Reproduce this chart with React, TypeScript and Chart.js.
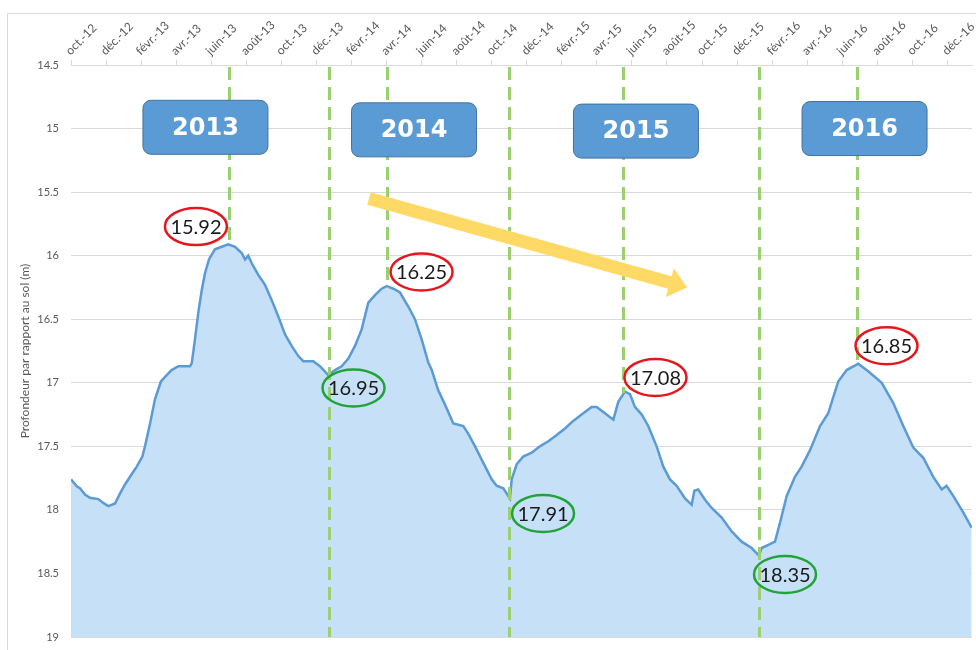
import React, { useEffect, useRef } from 'react';
import { Chart, registerables } from 'chart.js';

Chart.register(...registerables);

// Tick labels every two months, starting at oct.-12 (month offset 0)
const monthLabels = [
  'oct.-12', 'déc.-12', 'févr.-13', 'avr.-13', 'juin-13', 'août-13', 'oct.-13', 'déc.-13',
  'févr.-14', 'avr.-14', 'juin-14', 'août-14', 'oct.-14', 'déc.-14', 'févr.-15', 'avr.-15',
  'juin-15', 'août-15', 'oct.-15', 'déc.-15', 'févr.-16', 'avr.-16', 'juin-16', 'août-16',
  'oct.-16', 'déc.-16',
];

// Months elapsed since 1 Oct 2012
const monthOffsets = [
  0.00, 0.33, 0.51, 0.80, 1.08, 1.56, 1.84, 2.13, 2.51, 2.80, 3.08, 3.46, 3.75, 4.07, 4.22,
  4.51, 4.79, 5.13, 5.46, 5.74, 6.12, 6.79, 6.89, 7.07, 7.26, 7.46, 7.64, 7.87, 8.21, 8.60,
  8.97, 9.36, 9.74, 9.93, 10.11, 10.31, 10.68, 11.07, 11.45, 11.83, 12.21, 12.59, 12.97,
  13.25, 13.82, 14.20, 14.68, 15.06, 15.44, 15.82, 16.20, 16.58, 16.96, 17.34, 17.72, 18.01,
  18.39, 18.77, 19.24, 19.62, 20.01, 20.38, 20.58, 20.95, 21.33, 21.81, 22.38, 22.66, 23.05,
  23.52, 24.00, 24.28, 24.66, 25.04, 25.14, 25.43, 25.80, 26.28, 26.75, 27.23, 27.71, 28.18,
  28.65, 29.13, 29.70, 29.99, 30.46, 30.94, 31.22, 31.60, 31.89, 32.17, 32.56, 32.93, 33.41,
  33.79, 34.17, 34.55, 35.03, 35.41, 35.56, 35.78, 36.17, 36.55, 37.12, 37.69, 38.26, 38.83,
  39.25, 39.40, 39.87, 40.16, 40.45, 40.83, 41.30, 41.68, 42.16, 42.73, 43.20, 43.49, 43.77,
  44.25, 44.91, 45.48, 46.25, 46.91, 47.48, 48.05, 48.62, 49.19, 49.67, 49.95, 50.33, 50.90,
  51.38,
];

// Depth below ground (m)
const depths = [
  17.76, 17.815, 17.83, 17.88, 17.905, 17.915, 17.945, 17.97, 17.95, 17.87, 17.80, 17.72,
  17.66, 17.58, 17.50, 17.32, 17.13, 16.99, 16.94, 16.90, 16.87, 16.87, 16.845, 16.66, 16.45,
  16.27, 16.14, 16.03, 15.95, 15.93, 15.91, 15.93, 15.98, 16.03, 16.00, 16.06, 16.15, 16.23,
  16.35, 16.48, 16.62, 16.71, 16.79, 16.83, 16.83, 16.87, 16.94, 16.90, 16.87, 16.81, 16.71,
  16.58, 16.37, 16.31, 16.26, 16.24, 16.26, 16.29, 16.40, 16.50, 16.66, 16.84, 16.90, 17.06,
  17.17, 17.32, 17.34, 17.40, 17.50, 17.63, 17.76, 17.81, 17.83, 17.91, 17.76, 17.64, 17.58,
  17.55, 17.50, 17.46, 17.41, 17.36, 17.30, 17.25, 17.19, 17.19, 17.24, 17.29, 17.15, 17.07,
  17.09, 17.19, 17.25, 17.34, 17.50, 17.66, 17.76, 17.81, 17.91, 17.96, 17.85, 17.84, 17.92,
  17.985, 18.06, 18.17, 18.25, 18.30, 18.36, 18.30, 18.27, 18.25, 18.10, 17.89, 17.74, 17.66,
  17.53, 17.34, 17.24, 17.11, 16.99, 16.90, 16.85, 16.91, 17.00, 17.16, 17.34, 17.51, 17.59,
  17.74, 17.84, 17.81, 17.89, 18.02, 18.14,
];

// Annotated highs (red) and lows (green)
const peakMonths = [9.01, 18.03, 31.49, 44.84];
const peakValues = [15.92, 16.25, 17.08, 16.85];
const troughMonths = [14.72, 24.96, 39.25];
const troughValues = [16.95, 17.91, 18.35];

// Year boxes
const yearLabels = ['2013', '2014', '2015', '2016'];
const yearMonths = [7.67, 19.57, 32.23, 45.27];
const yearDepths = [14.99, 15.01, 15.02, 15.0];

// Trend arrow (start / tip), in data units
const arrowMonths = [17.0, 35.15];
const arrowDepths = [15.55, 16.25];

// styling offsets for the value ellipses (px)
const peakLabelOffsets = [[-33, -19], [34.5, -15.5], [32.5, -15.5], [29.5, -18]];
const troughLabelOffsets = [[24.5, 11.5], [34.5, 15], [26, 20]];

const annotationPlugin = {
  id: 'customAnnotations',
  beforeDraw(chart: any) {
    const { ctx } = chart;
    ctx.save();
    ctx.fillStyle = '#ffffff';
    ctx.fillRect(0, 0, chart.width, chart.height);
    ctx.strokeStyle = '#D9D9D9';
    ctx.lineWidth = 1;
    ctx.strokeRect(7.5, 13.5, 990, 700);
    ctx.restore();
  },
  afterDatasetsDraw(chart: any) {
    const { ctx, chartArea } = chart;
    const xs = chart.scales.x;
    const ys = chart.scales.y;
    ctx.save();

    // dashed vertical lines
    ctx.strokeStyle = '#9BD071';
    ctx.lineWidth = 3;
    ctx.setLineDash([13, 7]);
    troughMonths.forEach((m) => {
      const px = Math.round(xs.getPixelForValue(m)) + 0.5;
      ctx.beginPath();
      ctx.moveTo(px, chartArea.top + 2);
      ctx.lineTo(px, chartArea.bottom);
      ctx.stroke();
    });
    peakMonths.forEach((m, i) => {
      const px = Math.round(xs.getPixelForValue(m)) + 0.5;
      ctx.beginPath();
      ctx.moveTo(px, chartArea.top + 2);
      ctx.lineTo(px, ys.getPixelForValue(peakValues[i]));
      ctx.stroke();
    });
    ctx.setLineDash([]);

    // trend arrow
    const x0 = xs.getPixelForValue(arrowMonths[0]);
    const y0 = ys.getPixelForValue(arrowDepths[0]);
    const x1 = xs.getPixelForValue(arrowMonths[1]);
    const y1 = ys.getPixelForValue(arrowDepths[1]);
    const ang = Math.atan2(y1 - y0, x1 - x0);
    const len = Math.hypot(x1 - x0, y1 - y0);
    const headLen = 18;
    const headHalf = 15;
    const shaftHalf = 6.5;
    ctx.save();
    ctx.translate(x0, y0);
    ctx.rotate(ang);
    ctx.fillStyle = '#FFD966';
    ctx.beginPath();
    ctx.moveTo(0, -shaftHalf);
    ctx.lineTo(len - headLen, -shaftHalf);
    ctx.lineTo(len - headLen, -headHalf);
    ctx.lineTo(len, 0);
    ctx.lineTo(len - headLen, headHalf);
    ctx.lineTo(len - headLen, shaftHalf);
    ctx.lineTo(0, shaftHalf);
    ctx.closePath();
    ctx.fill();
    ctx.restore();

    // year boxes
    yearLabels.forEach((lab, i) => {
      const cx = xs.getPixelForValue(yearMonths[i]);
      const cy = ys.getPixelForValue(yearDepths[i]);
      const w = 125;
      const h = 54;
      ctx.beginPath();
      (ctx as any).roundRect(cx - w / 2, cy - h / 2, w, h, 8);
      ctx.fillStyle = '#5B9BD5';
      ctx.fill();
      ctx.strokeStyle = '#41719C';
      ctx.lineWidth = 1;
      ctx.stroke();
      ctx.fillStyle = '#ffffff';
      ctx.font = 'bold 24px "DejaVu Sans", sans-serif';
      ctx.textAlign = 'center';
      ctx.textBaseline = 'middle';
      ctx.fillText(lab, cx, cy + 1);
    });

    // value ellipses
    const drawEllipse = (cx: number, cy: number, color: string, text: string) => {
      ctx.beginPath();
      ctx.ellipse(cx, cy, 31, 18.5, 0, 0, Math.PI * 2);
      ctx.strokeStyle = color;
      ctx.lineWidth = 2.5;
      ctx.stroke();
      ctx.fillStyle = '#1a1a1a';
      ctx.font = '20px Lato, sans-serif';
      ctx.textAlign = 'center';
      ctx.textBaseline = 'middle';
      ctx.fillText(text, cx, cy + 1);
    };
    peakMonths.forEach((m, i) => {
      const px = xs.getPixelForValue(m) + peakLabelOffsets[i][0];
      const py = ys.getPixelForValue(peakValues[i]) + peakLabelOffsets[i][1];
      drawEllipse(px, py, '#E5161E', peakValues[i].toFixed(2));
    });
    troughMonths.forEach((m, i) => {
      const px = xs.getPixelForValue(m) + troughLabelOffsets[i][0];
      const py = ys.getPixelForValue(troughValues[i]) + troughLabelOffsets[i][1];
      drawEllipse(px, py, '#21A339', troughValues[i].toFixed(2));
    });

    ctx.restore();
  },
};

export default function App() {
  const canvasRef = useRef<HTMLCanvasElement | null>(null);

  useEffect(() => {
    if (!canvasRef.current) return;
    Chart.defaults.font.family = 'Lato, "Open Sans", sans-serif';
    const chart = new Chart(canvasRef.current, {
      type: 'line',
      data: {
        datasets: [
          {
            data: monthOffsets.map((m, i) => ({ x: m, y: depths[i] })),
            borderColor: '#5B9BD5',
            borderWidth: 2.5,
            backgroundColor: '#C6E0F7',
            fill: { value: 19 },
            pointRadius: 0,
            tension: 0,
          },
        ],
      },
      options: {
        responsive: false,
        animation: false,
        layout: { padding: { top: 15, left: 0, right: 4, bottom: 13 } },
        plugins: {
          legend: { display: false },
          tooltip: { enabled: false },
          title: { display: false },
        },
        scales: {
          x: {
            type: 'linear',
            position: 'top',
            min: 0,
            max: 51.4,
            grid: { drawOnChartArea: false, drawTicks: true, tickLength: 5, color: '#D9D9D9' },
            border: { display: true, color: '#D9D9D9' },
            ticks: {
              stepSize: 2,
              includeBounds: false,
              autoSkip: false,
              maxRotation: 45,
              minRotation: 45,
              padding: 2,
              labelOffset: 7,
              color: '#595959',
              font: { size: 12 },
              callback: (v: any) => monthLabels[Math.round(Number(v) / 2)] ?? '',
            },
            afterFit: (s: any) => {
              s.height = 50;
              s.paddingLeft = 0;
              s.paddingRight = 0;
            },
          },
          y: {
            reverse: true,
            min: 14.5,
            max: 19,
            ticks: {
              stepSize: 0.5,
              padding: 12,
              color: '#595959',
              font: { size: 11 },
              callback: (v: any) => String(Math.round(Number(v) * 10) / 10),
            },
            grid: { color: '#D9D9D9', drawTicks: false },
            border: { display: false },
            title: {
              display: true,
              text: 'Profondeur par rapport au sol (m)',
              color: '#595959',
              font: { size: 12 },
              padding: { top: 18, bottom: 0 },
            },
            afterFit: (s: any) => {
              s.width = 71;
              s.paddingTop = 0;
              s.paddingBottom = 0;
            },
          },
        },
      } as any,
      plugins: [annotationPlugin],
    });
    return () => chart.destroy();
  }, []);

  return (
    <div style={{ position: 'fixed', left: 0, top: 0, width: 976, height: 650, background: '#fff' }}>
      <canvas ref={canvasRef} width={976} height={650} style={{ display: 'block' }} />
    </div>
  );
}
